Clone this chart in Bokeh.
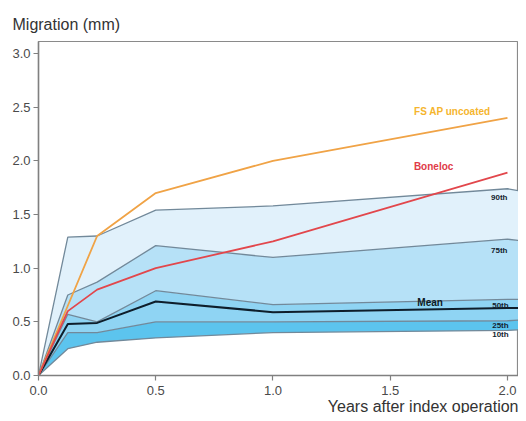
from bokeh.plotting import figure
from bokeh.models import Range1d, Title, FixedTicker
from bokeh.core.properties import value
from bokeh.embed import file_html
from bokeh.resources import INLINE

# Data
x_pct = [0.0, 0.125, 0.25, 0.5, 1.0, 2.0, 2.08]
p10 = [0.0, 0.25, 0.31, 0.35, 0.40, 0.42, 0.43]
p25 = [0.0, 0.40, 0.40, 0.50, 0.50, 0.51, 0.52]
p50 = [0.0, 0.57, 0.50, 0.79, 0.66, 0.71, 0.71]
p75 = [0.0, 0.75, 0.87, 1.21, 1.10, 1.27, 1.25]
p90 = [0.0, 1.29, 1.30, 1.54, 1.58, 1.74, 1.71]
mean = [0.0, 0.48, 0.49, 0.69, 0.59, 0.63, 0.63]

x_impl = [0.0, 0.125, 0.25, 0.5, 1.0, 2.0]
fs_ap = [0.0, 0.65, 1.30, 1.70, 2.00, 2.40]
boneloc = [0.0, 0.60, 0.80, 1.00, 1.25, 1.89]

pct_labels = ["90th", "75th", "50th", "25th", "10th"]
pct_label_x = [1.965, 1.965, 1.97, 1.97, 1.97]
pct_label_y = [1.66, 1.165, 0.65, 0.465, 0.38]

y_ticks = [0.0, 0.5, 1.0, 1.5, 2.0, 2.5, 3.0]
x_ticks = [0.0, 0.5, 1.0, 1.5, 2.0]

FONT = "Liberation Sans"

p = figure(width=518, height=413, output_backend="svg", toolbar_location=None,
           x_range=Range1d(0, 2.047), y_range=Range1d(0, 3.112),
           min_border_left=38, min_border_right=0, min_border_top=41,
           min_border_bottom=38)
p.background_fill_color = "white"
p.border_fill_color = "white"
p.outline_line_color = "#8a8a8a"
p.outline_line_width = 1.2
p.grid.visible = False

# bands
p.varea(x=x_pct, y1=p10, y2=p25, fill_color="#5cc4ee")
p.varea(x=x_pct, y1=p25, y2=p50, fill_color="#8fd4f3")
p.varea(x=x_pct, y1=p50, y2=p75, fill_color="#b6e1f7")
p.varea(x=x_pct, y1=p75, y2=p90, fill_color="#e1f1fb")

line_col = "#72899a"
for ys in (p10, p25, p50, p75, p90):
    p.line(x_pct, ys, line_color=line_col, line_width=1.3)
p.line(x_pct, mean, line_color="#0e1e2b", line_width=2)

p.line(x_impl, fs_ap, line_color="#f0a346", line_width=1.8)
p.line(x_impl, boneloc, line_color="#e2474c", line_width=1.8)

# labels
p.text(x=pct_label_x, y=pct_label_y, text=pct_labels, text_font=value(FONT),
       text_font_size="8px", text_font_style="bold", text_color="#13222e",
       text_align="center", text_baseline="middle")
p.text(x=[1.67], y=[0.68], text=["Mean"], text_font=value(FONT),
       text_font_size="10px", text_font_style="bold", text_color="#0e1a24",
       text_align="center", text_baseline="middle")
p.text(x=[1.765], y=[2.46], text=["FS AP uncoated"], text_font=value(FONT),
       text_font_size="10px", text_font_style="bold", text_color="#f5b52e",
       text_align="center", text_baseline="middle")
p.text(x=[1.685], y=[1.95], text=["Boneloc"], text_font=value(FONT),
       text_font_size="10px", text_font_style="bold", text_color="#e03a48",
       text_align="center", text_baseline="middle")

# axes
for ax in (p.xaxis, p.yaxis):
    ax.axis_line_color = "#808080"
    ax.axis_line_width = 1.5
    ax.major_tick_line_color = "#808080"
    ax.major_tick_line_width = 1.2
    ax.major_tick_out = 5
    ax.major_tick_in = 0
    ax.minor_tick_line_color = None
    ax.major_label_text_font = FONT
    ax.major_label_text_font_size = "13px"
    ax.major_label_text_color = "#4a4a4a"
p.xaxis.ticker = FixedTicker(ticks=x_ticks)
p.yaxis.ticker = FixedTicker(ticks=y_ticks)
p.xaxis.major_label_overrides = {t: f"{t:.1f}" for t in x_ticks}
p.yaxis.major_label_overrides = {t: f"{t:.1f}" for t in y_ticks}
p.xaxis.major_label_standoff = 5
p.yaxis.major_label_standoff = 3

p.title.text = "Migration (mm)"
p.title.text_font = FONT
p.title.text_font_size = "16px"
p.title.text_font_style = "normal"
p.title.text_color = "#333333"
p.title.align = "left"
p.title.offset = -26
p.title.standoff = 18

p.add_layout(Title(text="Years after index operation", align="right",
                   text_font=FONT, text_font_size="16px",
                   text_font_style="normal", text_color="#333333",
                   offset=0, standoff=-4), "below")

open("out.html", "w").write(file_html(p, INLINE))
